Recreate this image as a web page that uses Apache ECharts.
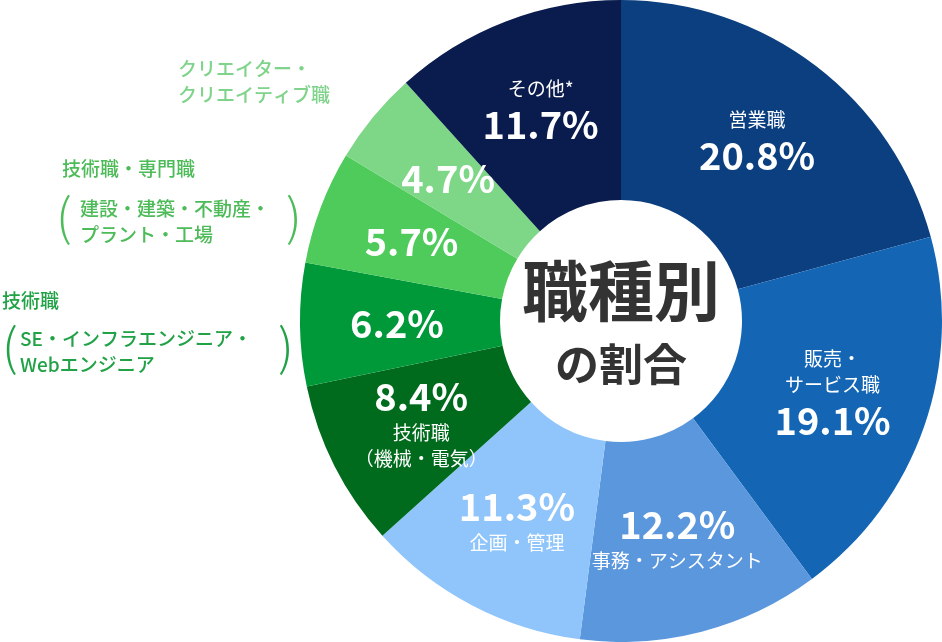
<!DOCTYPE html>
<html><head><meta charset="utf-8">
<script src="https://cdn.jsdelivr.net/npm/echarts@6/dist/echarts.min.js"></script>
<style>html,body{margin:0;padding:0;background:#fff}#c{width:942px;height:642px}</style>
</head><body><div id="c"></div>
<script>
const names = ['営業職','販売・\nサービス職','事務・アシスタント','企画・管理','技術職\n（機械・電気）','技術職SE','技術職建設','クリエイター','その他*'];
const values = [20.8,19.1,12.2,11.3,8.4,6.2,5.7,4.7,11.7];
const colors = ['#0b3f7f','#1466b5','#5b97dd','#8fc5fb','#006b1c','#00993a','#4ecb5b','#7ed687','#0a1b4d'];
const labelMode = ['top','top','bottom','bottom','bottom','none','none','none','top'];
const F = '"Noto Sans CJK JP","Noto Sans",sans-serif';
const chart = echarts.init(document.getElementById('c'));
const data = values.map((v,i)=>{
  const nm = names[i];
  let fmt;
  if (labelMode[i]==='top') fmt = '{n|'+nm+'}\n{v|'+v.toFixed(1)+'%}';
  else if (labelMode[i]==='bottom') fmt = '{v|'+v.toFixed(1)+'%}\n{n|'+nm+'}';
  else fmt = '{v|'+v.toFixed(1)+'%}';
  return {value:v,name:nm,itemStyle:{color:colors[i]},label:{formatter:fmt}};
});
const green1='#7fd38a', green2='#4dbb58', green3='#21a247';
function t(x,y,s,color,size,w){return {type:'text',left:x,top:y,style:{text:s,fill:color,font:(w||'500')+' '+size+'px '+F,lineHeight:size*1.35}};}
chart.setOption({
  animation:false,
  series:[{type:'pie',center:[621,321],radius:[121,321],startAngle:90,clockwise:true,
    label:{position:'inside',color:'#fff',fontFamily:F,
      rich:{n:{fontSize:19,color:'#fff',fontFamily:F,lineHeight:26},v:{fontSize:38,fontWeight:'bold',color:'#fff',fontFamily:F,lineHeight:46}}},
    labelLine:{show:false},emphasis:{disabled:true},data:data}],
  graphic:[
    {type:'text',x:621,y:258,style:{text:'職種別',fill:'#333',font:'bold 66px '+F,textAlign:'center'}},
    {type:'text',x:621,y:342,style:{text:'の割合',fill:'#333',font:'bold 44px '+F,textAlign:'center'}},
    t(178,56,'クリエイター・\nクリエイティブ職',green1,19),
    t(62,156,'技術職・専門職',green2,19),
    t(80,196,'建設・建築・不動産・\nプラント・工場',green2,19),
    t(56,182,'(',green2,50,'300'),t(286,182,')',green2,50,'300'),
    t(2,288,'技術職',green3,19),
    t(20,326,'SE・インフラエンジニア・\nWebエンジニア',green3,19),
    t(2,312,'(',green3,50,'300'),t(278,312,')',green3,50,'300')
  ]
});
</script></body></html>
